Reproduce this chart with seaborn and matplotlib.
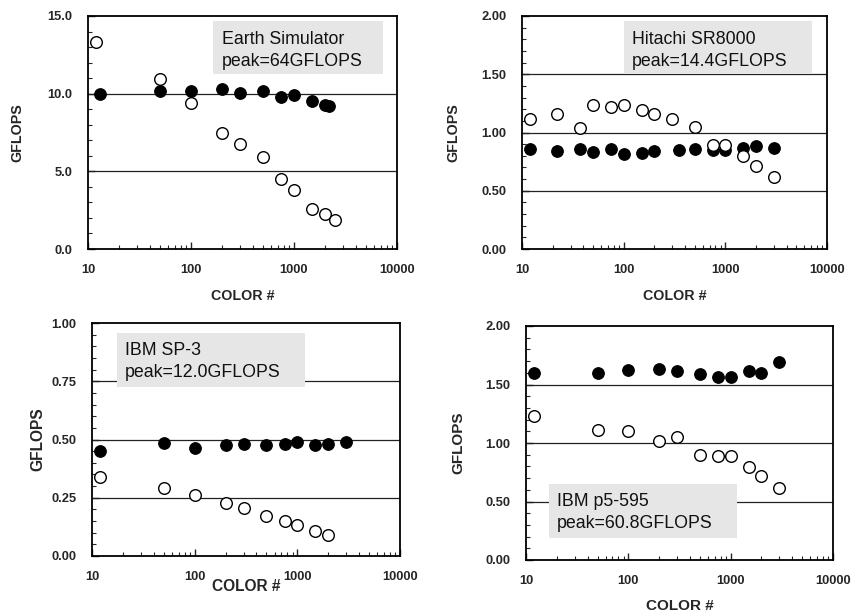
import numpy as np
import pandas as pd
import matplotlib
matplotlib.use("Agg")
import matplotlib.pyplot as plt
import seaborn as sns
from matplotlib.patches import Rectangle
from matplotlib.ticker import FixedLocator, NullFormatter, LogLocator, MultipleLocator, FormatStrFormatter

sns.set_style("ticks")
plt.rcParams['font.family'] = ['Liberation Sans', 'DejaVu Sans']

# ---------------- data ----------------
es_open_x = [12, 50, 100, 200, 300, 500, 750, 1000, 1500, 2000, 2500]
es_open_y = [13.33, 10.95, 9.41, 7.48, 6.75, 5.94, 4.52, 3.81, 2.57, 2.23, 1.84]
es_fill_x = [13, 50, 100, 200, 300, 500, 750, 1000, 1500, 2000, 2200]
es_fill_y = [10.0, 10.2, 10.16, 10.29, 10.05, 10.18, 9.77, 9.92, 9.54, 9.3, 9.19]

sr_open_x = [12, 22, 37, 50, 75, 100, 150, 200, 300, 500, 750, 1000, 1500, 2000, 3000]
sr_open_y = [1.117, 1.16, 1.04, 1.24, 1.223, 1.234, 1.197, 1.157, 1.114, 1.049, 0.891, 0.891, 0.797, 0.711, 0.62]
sr_fill_x = [12, 22, 37, 50, 75, 100, 150, 200, 350, 500, 750, 1000, 1500, 2000, 3000]
sr_fill_y = [0.857, 0.843, 0.857, 0.829, 0.857, 0.814, 0.823, 0.837, 0.851, 0.857, 0.854, 0.854, 0.863, 0.886, 0.866]

sp_open_x = [12, 50, 100, 200, 300, 500, 750, 1000, 1500, 2000]
sp_open_y = [0.339, 0.291, 0.261, 0.226, 0.207, 0.173, 0.149, 0.133, 0.106, 0.09]
sp_fill_x = [12, 50, 100, 200, 300, 500, 750, 1000, 1500, 2000, 3000]
sp_fill_y = [0.449, 0.486, 0.464, 0.476, 0.479, 0.476, 0.481, 0.489, 0.476, 0.479, 0.49]

p5_open_x = [12, 50, 100, 200, 300, 500, 750, 1000, 1500, 2000, 3000]
p5_open_y = [1.231, 1.114, 1.103, 1.017, 1.051, 0.90, 0.886, 0.886, 0.795, 0.721, 0.618]
p5_fill_x = [12, 50, 100, 200, 300, 500, 750, 1000, 1500, 2000, 3000]
p5_fill_y = [1.601, 1.601, 1.627, 1.635, 1.615, 1.59, 1.561, 1.561, 1.615, 1.601, 1.692]

titles = [["Earth Simulator", "peak=64GFLOPS"],
          ["Hitachi SR8000", "peak=14.4GFLOPS"],
          ["IBM SP-3", "peak=12.0GFLOPS"],
          ["IBM p5-595", "peak=60.8GFLOPS"]]
x_ticks = [10, 100, 1000, 10000]
x_ticklabels = ["10", "100", "1000", "10000"]

W, H = 853, 616
fig = plt.figure(figsize=(W / 100, H / 100), dpi=100)

def fr(l, t, r, b):
    return [l / W, 1 - b / H, (r - l) / W, (b - t) / H]

panels = [
    dict(rect=fr(88, 16, 397, 249), ox=es_open_x, oy=es_open_y, fx=es_fill_x, fy=es_fill_y,
         ymax=15.0, major=5.0, minor=1.0, fmt="%.1f", hl=[5.0, 10.0],
         box=(0.405, 0.751, 0.955, 0.979), tx=0.434, ty=(0.901, 0.803),
         ylab=-0.23, xlab=-0.20, lab_fs=10.3, title=titles[0]),
    dict(rect=fr(522, 16, 827, 249), ox=sr_open_x, oy=sr_open_y, fx=sr_fill_x, fy=sr_fill_y,
         ymax=2.0, major=0.5, minor=0.1, fmt="%.2f", hl=[0.5, 1.0, 1.5],
         box=(0.334, 0.751, 0.951, 0.979), tx=0.361, ty=(0.897, 0.803),
         ylab=-0.226, xlab=-0.20, lab_fs=10.3, title=titles[1]),
    dict(rect=fr(92, 323, 400, 556), ox=sp_open_x, oy=sp_open_y, fx=sp_fill_x, fy=sp_fill_y,
         ymax=1.0, major=0.25, minor=0.05, fmt="%.2f", hl=[0.25, 0.5, 0.75],
         box=(0.081, 0.725, 0.692, 0.957), tx=0.107, ty=(0.884, 0.787),
         ylab=-0.175, xlab=-0.129, lab_fs=11.2, title=titles[2]),
    dict(rect=fr(526, 326, 833, 560), ox=p5_open_x, oy=p5_open_y, fx=p5_fill_x, fy=p5_fill_y,
         ymax=2.0, major=0.5, minor=0.1, fmt="%.2f", hl=[0.5, 1.0, 1.5],
         box=(0.075, 0.094, 0.687, 0.325), tx=0.101, ty=(0.249, 0.154),
         ylab=-0.221, xlab=-0.197, lab_fs=11.0, title=titles[3]),
]

for p in panels:
    ax = fig.add_axes(p["rect"])
    ax.set_xscale("log")
    for yv in p["hl"]:
        ax.axhline(yv, color="#222222", lw=0.9, zorder=1)
    l, b, r, t = p["box"]
    ax.add_patch(Rectangle((l, b), r - l, t - b, transform=ax.transAxes,
                           facecolor="#e6e6e6", edgecolor="none", zorder=2))
    ax.text(p["tx"], p["ty"][0], p["title"][0], transform=ax.transAxes,
            fontsize=12.8, va="center", ha="left", zorder=3, color="#111111")
    ax.text(p["tx"], p["ty"][1], p["title"][1], transform=ax.transAxes,
            fontsize=12.8, va="center", ha="left", zorder=3, color="#111111")
    sns.scatterplot(x=p["fx"], y=p["fy"], ax=ax, s=70, color="black",
                    edgecolor="black", linewidth=0.8, zorder=4, legend=False)
    sns.scatterplot(x=p["ox"], y=p["oy"], ax=ax, s=70, color="white",
                    edgecolor="black", linewidth=1.0, zorder=5, legend=False)
    ax.set_xlim(10, 10000)
    ax.set_ylim(0, p["ymax"])
    ax.xaxis.set_major_locator(FixedLocator(x_ticks))
    ax.set_xticklabels(x_ticklabels)
    ax.xaxis.set_minor_locator(LogLocator(base=10, subs=np.arange(2, 10)))
    ax.xaxis.set_minor_formatter(NullFormatter())
    ax.yaxis.set_major_locator(MultipleLocator(p["major"]))
    ax.yaxis.set_minor_locator(MultipleLocator(p["minor"]))
    ax.yaxis.set_major_formatter(FormatStrFormatter(p["fmt"]))
    ax.tick_params(axis="both", which="major", direction="in", length=5, width=1,
                   labelsize=9.3, pad=11)
    ax.tick_params(axis="both", which="minor", direction="in", length=3, width=0.8)
    ax.tick_params(top=False, right=False, which="both")
    for lab in ax.get_xticklabels() + ax.get_yticklabels():
        lab.set_fontweight("bold")
    for s in ax.spines.values():
        s.set_linewidth(1.3)
        s.set_color("black")
    ax.set_xlabel("COLOR #", fontsize=p["lab_fs"], fontweight="bold")
    ax.set_ylabel("GFLOPS", fontsize=p["lab_fs"], fontweight="bold")
    ax.xaxis.set_label_coords(0.5, p["xlab"])
    ax.xaxis.label.set_va("center")
    ax.yaxis.set_label_coords(p["ylab"], 0.5)
    ax.yaxis.label.set_va("center")

fig.savefig("out.png", dpi=100, facecolor="white")
